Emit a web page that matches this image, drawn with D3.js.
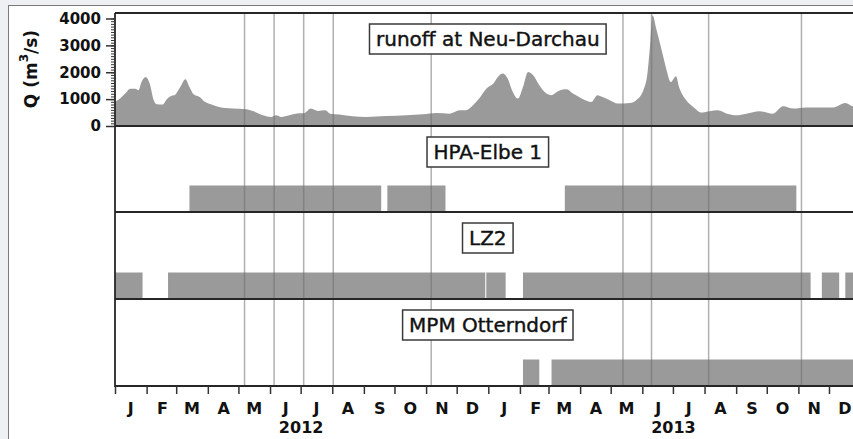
<!DOCTYPE html>
<html>
<head>
<meta charset="utf-8">
<script src="https://cdn.jsdelivr.net/npm/d3@7"></script>
<style>
  html, body { margin: 0; padding: 0; background: #eef0f3; overflow: hidden; }
  svg { display: block; }
</style>
</head>
<body>
<svg id="chart" width="853" height="439"></svg>
<script>
// Daily-ish runoff of the Elbe at Neu-Darchau (m³/s)
const runoffDates = [
  "2012-01-01","2012-01-06","2012-01-11","2012-01-16","2012-01-21","2012-01-24","2012-01-27","2012-01-31",
  "2012-02-04","2012-02-08","2012-02-11","2012-02-17","2012-02-20","2012-02-25","2012-02-28","2012-03-05",
  "2012-03-10","2012-03-14","2012-03-18","2012-03-24","2012-03-29","2012-04-04","2012-04-12","2012-04-25",
  "2012-05-09","2012-05-15","2012-05-25","2012-06-02","2012-06-07","2012-06-12","2012-06-20","2012-06-30",
  "2012-07-04","2012-07-11","2012-07-18","2012-07-25","2012-07-30","2012-08-08","2012-08-21","2012-09-03",
  "2012-09-23","2012-10-13","2012-10-29","2012-11-11","2012-11-24","2012-12-04","2012-12-10","2012-12-17",
  "2012-12-23","2012-12-30","2013-01-06","2013-01-11","2013-01-15","2013-01-20","2013-01-25","2013-01-30",
  "2013-02-04","2013-02-09","2013-02-14","2013-02-20","2013-02-27","2013-03-04","2013-03-09","2013-03-15",
  "2013-03-19","2013-03-25","2013-03-31","2013-04-04","2013-04-12","2013-04-18","2013-04-23","2013-04-30",
  "2013-05-08","2013-05-20","2013-05-26","2013-06-02","2013-06-06","2013-06-09","2013-06-11","2013-06-15",
  "2013-06-20","2013-06-24","2013-06-29","2013-07-04","2013-07-07","2013-07-14","2013-07-21","2013-07-29",
  "2013-08-06","2013-08-14","2013-08-23","2013-09-01","2013-09-11","2013-09-24","2013-10-07","2013-10-17",
  "2013-10-27","2013-11-09","2013-11-22","2013-12-05","2013-12-17","2013-12-25","2014-01-01"
];
const runoffValues = [
  900,1020,1205,1390,1390,1330,1640,1825,
  1580,960,810,800,960,1120,1140,1450,
  1740,1450,1180,1080,900,810,710,650,
  620,560,400,335,400,335,400,470,
  470,650,560,585,460,425,360,335,
  370,400,435,485,460,585,585,770,
  1020,1390,1580,1850,1950,1765,1265,1020,
  1450,2010,1890,1515,1205,1145,1265,1355,
  1370,1205,1080,995,894,1145,1080,960,
  835,860,960,1330,1950,3190,4120,3565,
  2820,2200,1640,1850,1450,960,710,500,
  550,585,460,400,460,550,460,735,
  650,690,690,690,860,735,780
];

// Deployment periods of the three stations
const hpaStart = ["2012-03-14","2012-09-24","2013-03-17"];
const hpaEnd   = ["2012-09-18","2012-11-20","2013-10-30"];
const lz2Start = ["2012-01-01","2012-02-22","2012-12-30","2013-02-04","2013-11-24","2013-12-17"];
const lz2End   = ["2012-01-28","2012-12-29","2013-01-18","2013-11-13","2013-12-11","2014-01-01"];
const mpmStart = ["2013-02-04","2013-03-04"];
const mpmEnd   = ["2013-02-20","2014-01-01"];

// Survey dates marked by vertical lines
const surveyDates = ["2012-05-07","2012-06-05","2012-07-04","2012-08-02","2012-11-06",
                     "2013-05-13","2013-06-10","2013-08-05","2013-11-04"];

const yTicks = [0, 1000, 2000, 3000, 4000];
const monthLabels = ["J","F","M","A","M","J","J","A","S","O","N","D"];
const yearLabels = ["2012","2013"];
const panelNames = ["runoff at Neu-Darchau","HPA-Elbe 1","LZ2","MPM Otterndorf"];

// ---------------------------------------------------------------
const parse = d3.utcParse("%Y-%m-%d");
const svg = d3.select("#chart");

const left = 115, right = 860.6;
const panelTops = [13, 126, 212, 299];
const bottom = 386;
const barH = 26.5;
const grey = "#9a9a9a";
const frameCol = "#262626";
const fontAxis = "'DejaVu Sans', sans-serif";

const x = d3.scaleUtc()
  .domain([parse("2012-01-01"), parse("2014-01-01")])
  .range([left, right]);
const y = d3.scaleLinear().domain([0, 4000]).range([126, 18.5]);

// white card
svg.append("rect")
  .attr("x", 8.5).attr("y", 5.5).attr("width", 900).attr("height", 500)
  .attr("fill", "#fff").attr("stroke", "#7a7a7a").attr("stroke-width", 1);

svg.append("defs").append("clipPath").attr("id", "plotClip")
  .append("rect").attr("x", left).attr("y", panelTops[0])
  .attr("width", right - left).attr("height", bottom - panelTops[0]);

const plot = svg.append("g").attr("clip-path", "url(#plotClip)");

// runoff area
const runoff = runoffDates.map((d, i) => ({ date: parse(d), v: runoffValues[i] }));
plot.append("path")
  .datum(runoff)
  .attr("fill", grey)
  .attr("d", d3.area()
    .x(d => x(d.date))
    .y0(y(0))
    .y1(d => y(d.v))
    .curve(d3.curveMonotoneX));

// deployment bars
const stations = [
  { starts: hpaStart, ends: hpaEnd, bottom: panelTops[2] },
  { starts: lz2Start, ends: lz2End, bottom: panelTops[3] },
  { starts: mpmStart, ends: mpmEnd, bottom: bottom }
];
stations.forEach(s => {
  const periods = s.starts.map((d, i) => ({ a: parse(d), b: parse(s.ends[i]) }));
  plot.append("g").selectAll("rect")
    .data(periods).join("rect")
    .attr("x", d => x(d.a))
    .attr("width", d => x(d.b) - x(d.a))
    .attr("y", s.bottom - barH)
    .attr("height", barH)
    .attr("fill", grey);
});

// survey lines across all panels
plot.append("g").selectAll("line")
  .data(surveyDates.map(parse)).join("line")
  .attr("x1", d => x(d)).attr("x2", d => x(d))
  .attr("y1", panelTops[0]).attr("y2", bottom)
  .attr("stroke", "#707070").attr("stroke-opacity", 0.55).attr("stroke-width", 1.5);

// frame and panel separators
const frame = svg.append("g").attr("stroke", frameCol).attr("fill", "none");
[...panelTops, bottom].forEach((py, i) => {
  frame.append("line")
    .attr("x1", left).attr("x2", right + 10)
    .attr("y1", py).attr("y2", py)
    .attr("stroke-width", i === 0 ? 2.2 : 1.8);
});
frame.append("line")
  .attr("x1", left).attr("x2", left)
  .attr("y1", panelTops[0]).attr("y2", bottom + 1)
  .attr("stroke-width", 1.8);

// y axis (runoff panel)
const yMinor = svg.append("g").attr("transform", `translate(${left},0)`)
  .call(d3.axisLeft(y).tickValues(y.ticks(40)).tickSize(4).tickFormat(""));
yMinor.select(".domain").remove();
yMinor.selectAll("line").attr("stroke", "#333").attr("stroke-width", 1);

const yAxis = svg.append("g").attr("transform", `translate(${left},0)`)
  .call(d3.axisLeft(y).tickValues(yTicks).tickSize(9).tickPadding(5)
    .tickFormat(d3.format("d")));
yAxis.select(".domain").remove();
yAxis.selectAll("line").attr("stroke", "#333").attr("stroke-width", 1.5);
yAxis.selectAll("text")
  .attr("font-family", fontAxis).attr("font-weight", "bold")
  .attr("font-size", 15).attr("fill", "#111");

// y title
const yTitle = svg.append("text")
  .attr("transform", "translate(31,69) rotate(-90)")
  .attr("text-anchor", "middle")
  .attr("dominant-baseline", "central")
  .attr("font-family", fontAxis).attr("font-weight", "bold")
  .attr("font-size", 17).attr("fill", "#111");
yTitle.append("tspan").text("Q (m");
yTitle.append("tspan").attr("baseline-shift", "super").attr("font-size", 12).text("3");
yTitle.append("tspan").text("/s)");

// x axis: month ticks
const months = d3.utcMonth.range(parse("2012-01-01"), parse("2014-01-01"));
const xTicks = svg.append("g").attr("transform", `translate(0,${bottom})`)
  .call(d3.axisBottom(x).tickValues(months).tickSize(8).tickFormat(""));
xTicks.select(".domain").remove();
xTicks.selectAll("line").attr("stroke", "#333").attr("stroke-width", 1.5);

// month initials centred in each month
const midMonths = months.map(m => d3.utcDay.offset(m, 15));
const xLabels = svg.append("g").attr("transform", `translate(0,${bottom})`)
  .call(d3.axisBottom(x).tickValues(midMonths).tickSize(0).tickPadding(17)
    .tickFormat(d => monthLabels[d.getUTCMonth()]));
xLabels.select(".domain").remove();
xLabels.selectAll("text")
  .attr("font-family", fontAxis).attr("font-weight", "bold")
  .attr("font-size", 16).attr("fill", "#111");

// years
const yearDates = yearLabels.map(yr => parse(yr + "-07-01"));
const xYears = svg.append("g").attr("transform", `translate(0,${bottom})`)
  .call(d3.axisBottom(x).tickValues(yearDates).tickSize(0).tickPadding(36)
    .tickFormat((d, i) => yearLabels[i]));
xYears.select(".domain").remove();
xYears.selectAll("text")
  .attr("font-family", fontAxis).attr("font-weight", "bold")
  .attr("font-size", 16).attr("fill", "#111");

// boxed panel titles
const cx = (left + right) / 2;
panelNames.forEach((name, i) => {
  const cy = panelTops[i] + 26;
  const g = svg.append("g");
  const box = g.append("rect");
  const t = g.append("text")
    .attr("x", cx).attr("y", cy)
    .attr("text-anchor", "middle")
    .attr("dominant-baseline", "central")
    .attr("font-family", fontAxis)
    .attr("font-size", 20).attr("fill", "#111")
    .attr("stroke", "#111").attr("stroke-width", 0.4)
    .text(name);
  const w = t.node().getComputedTextLength() + 13;
  const h = 30;
  box.attr("x", cx - w / 2).attr("y", cy - h / 2)
    .attr("width", w).attr("height", h)
    .attr("fill", "#fff").attr("stroke", "#3a3a3a").attr("stroke-width", 1.5);
});
</script>
</body>
</html>
